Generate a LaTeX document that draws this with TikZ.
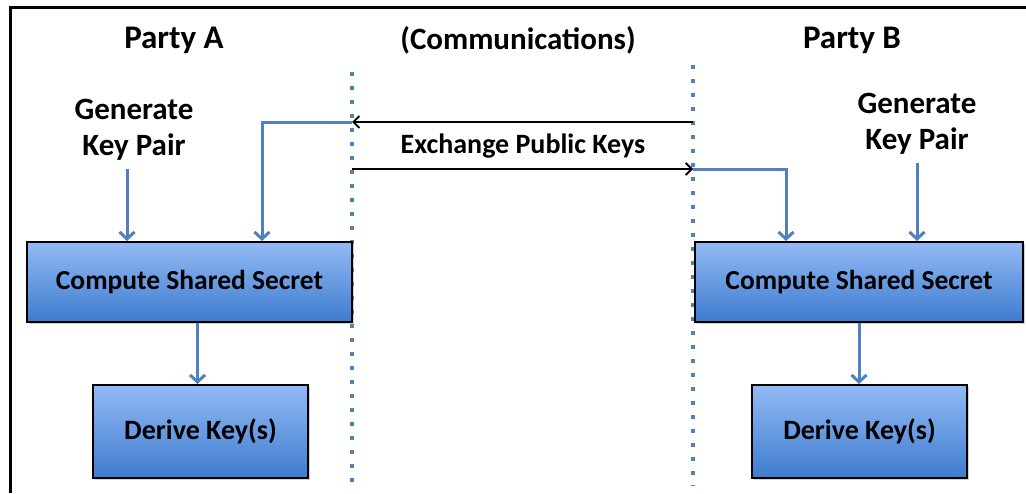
\documentclass[tikz,border=0pt]{standalone}
\usepackage{fontspec}
\setmainfont{Carlito}
\usetikzlibrary{arrows.meta,shadows}
\definecolor{ablue}{RGB}{79,129,189}
\definecolor{btop}{RGB}{146,186,245}
\definecolor{bbot}{RGB}{62,124,206}
\begin{document}
\begin{tikzpicture}[x=1pt,y=-1pt,
  boxnode/.style={draw=black, line width=2pt, top color=btop, bottom color=bbot,
    inner sep=0pt, font=\bfseries\fontsize{27.5}{32}\selectfont,
    drop shadow={opacity=0.35, shadow xshift=2pt, shadow yshift=-2pt}},
  headtext/.style={font=\bfseries\fontsize{33}{38}\selectfont, inner sep=0pt},
  commtext/.style={font=\bfseries\fontsize{31}{36}\selectfont, inner sep=0pt},
  gentext/.style={font=\bfseries\fontsize{31}{36}\selectfont, align=center, inner sep=0pt},
  labtext/.style={font=\bfseries\fontsize{28}{32}\selectfont, inner sep=0pt},
  barrow/.style={draw=ablue, line width=3pt, -{Straight Barb[length=7pt,width=15pt]}},
  karrow/.style={draw=black, line width=1.8pt, -{Straight Barb[length=6pt,width=12pt]}},
  dotline/.style={draw=ablue, line width=3.5pt, dash pattern=on 3.5pt off 10.5pt}]
\useasboundingbox (0,0) rectangle (1026,493);
% frame
\draw[line width=3pt] (10,493) -- (10,7) -- (1026,7);
% dotted separators
\coordinate (dA1) at (352,72);
\coordinate (dA2) at (352,490);
\coordinate (dB1) at (693,65);
\coordinate (dB2) at (693,486);
\draw[dotline] (dA1) -- (dA2);
\draw[dotline] (dB1) -- (dB2);
% headings
\node[headtext] (partyA) at (174,40) {Party A};
\node[commtext] (comm) at (518,40) {(Communications)};
\node[headtext] (partyB) at (852,40) {Party B};
% generate texts
\node[gentext] (genA) at (134,130) {Generate\\Key Pair};
\node[gentext] (genB) at (917,124) {Generate\\Key Pair};
% boxes
\node[boxnode, minimum width=325pt, minimum height=80pt] (csA) at (189.5,282) {\raisebox{-2pt}{Compute Shared Secret}};
\node[boxnode, minimum width=328pt, minimum height=80pt] (csB) at (859,282) {\raisebox{-2pt}{Compute Shared Secret}};
\node[boxnode, minimum width=215pt, minimum height=93pt, font=\bfseries\fontsize{28}{32}\selectfont] (dkA) at (200.5,431.5) {\raisebox{-3pt}{Derive Key(s)}};
\node[boxnode, minimum width=215pt, minimum height=93pt, font=\bfseries\fontsize{28}{32}\selectfont] (dkB) at (859.5,431.5) {\raisebox{-3pt}{Derive Key(s)}};
% exchange label
\node[labtext] (exch) at (523,146) {Exchange Public Keys};
% exchange points
\coordinate (pA1) at (352,122);
\coordinate (pB1) at (693,122);
\coordinate (pA2) at (352,169);
\coordinate (pB2) at (693,169);
\draw[karrow] (pB1) -- (pA1);
\draw[karrow] (pA2) -- (pB2);
% blue connectors
\draw[barrow] (pA1) -| ([xshift=72.5pt]csA.north);
\draw[barrow] (pB2) -| ([xshift=-73pt]csB.north);
\draw[barrow] ([xshift=-7pt,yshift=-8pt]genA.south) -- ([xshift=-7pt]genA.south |- csA.north);
\draw[barrow] ([yshift=-8pt]genB.south) -- (genB.south |- csB.north);
\draw[barrow] ([xshift=8pt]csA.south) -- ([xshift=8pt]csA.south |- dkA.north);
\draw[barrow] (csB.south) -- (csB.south |- dkB.north);
\end{tikzpicture}
\end{document}
